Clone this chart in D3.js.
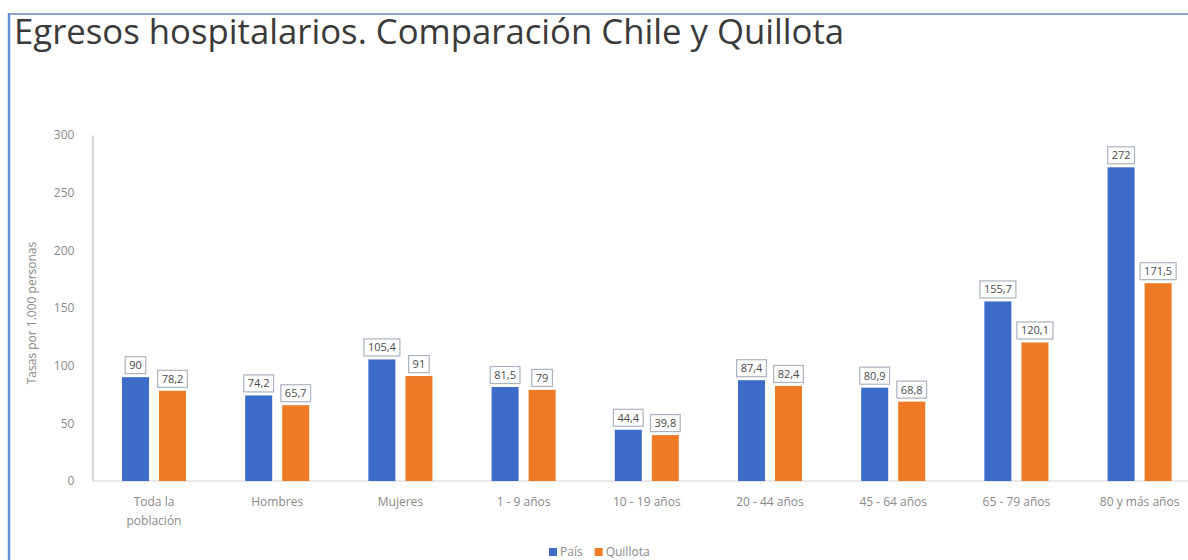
<!DOCTYPE html>
<html lang="es">
<head>
<meta charset="utf-8">
<script src="https://cdn.jsdelivr.net/npm/d3@7/dist/d3.min.js"></script>
<style>
  html, body { margin: 0; padding: 0; background: #ffffff; }
  svg { display: block; }
  text { font-family: "Open Sans", "Noto Sans", sans-serif; }
</style>
</head>
<body>
<svg id="chart" width="1188" height="560"></svg>
<script>
// Hospital discharge rates per 1,000 people: national (País) vs Quillota
const categories = [
  "Toda la población", "Hombres", "Mujeres", "1 - 9 años", "10 - 19 años",
  "20 - 44 años", "45 - 64 años", "65 - 79 años", "80 y más años"
];
const seriesNames = ["País", "Quillota"];
const paisValues     = [90, 74.2, 105.4, 81.5, 44.4, 87.4, 80.9, 155.7, 272];
const quillotaValues = [78.2, 65.7, 91, 79, 39.8, 82.4, 68.8, 120.1, 171.5];
const yTicks = [0, 50, 100, 150, 200, 250, 300];

const colors = { "País": "#3d6bc8", "Quillota": "#ee7a25" };

const svg = d3.select("#chart");

// outer frame (top and left edges)
svg.append("line").attr("x1", 9).attr("x2", 1188).attr("y1", 14).attr("y2", 14)
  .attr("stroke", "#8fa6c4").attr("stroke-width", 2);
svg.append("line").attr("x1", 9).attr("x2", 9).attr("y1", 13).attr("y2", 560)
  .attr("stroke", "#5d92d6").attr("stroke-width", 2.5);

// title, sized to its line
const title = svg.append("text")
  .attr("x", 14).attr("y", 44)
  .attr("fill", "#3a3a3a")
  .style("font-size", "30px")
  .text("Egresos hospitalarios. Comparación Chile y Quillota");
const tw = title.node().getComputedTextLength();
title.style("font-size", (30 * 830 / tw).toFixed(2) + "px");

// scales
const plotLeft = 92.4, step = 123.2;
const x0 = d3.scaleBand()
  .domain(categories)
  .range([plotLeft, plotLeft + step * categories.length])
  .paddingInner(0.48).paddingOuter(0.24);
const x1 = d3.scaleBand()
  .domain(seriesNames)
  .range([0, x0.bandwidth()])
  .paddingInner(0.27);
const y = d3.scaleLinear().domain([0, 300]).range([481, 135]);

// y axis
const yAxis = svg.append("g")
  .attr("transform", `translate(${plotLeft},0)`)
  .call(d3.axisLeft(y).tickValues(yTicks).tickSize(0).tickPadding(18).tickFormat(d3.format("d")));
yAxis.select(".domain").attr("stroke", "#c8c8c8").attr("stroke-width", 1.5);
yAxis.selectAll("text").attr("fill", "#8a8a8a").style("font-size", "12px");

// baseline
svg.append("line")
  .attr("x1", plotLeft).attr("x2", 1188)
  .attr("y1", y(0)).attr("y2", y(0))
  .attr("stroke", "#e2e2e2").attr("stroke-width", 1.5);

// y axis title
svg.append("text")
  .attr("transform", `translate(36,${(y(0) + y(300)) / 2 + 5}) rotate(-90)`)
  .attr("text-anchor", "middle")
  .attr("fill", "#8a8a8a")
  .style("font-size", "12px")
  .text("Tasas por 1.000 personas");

// grouped bars
const rows = categories.map((c, i) => ({
  category: c,
  values: [
    { series: "País", value: paisValues[i] },
    { series: "Quillota", value: quillotaValues[i] }
  ]
}));

const groups = svg.append("g").selectAll("g")
  .data(rows).join("g")
  .attr("transform", d => `translate(${x0(d.category)},0)`);

groups.selectAll("rect")
  .data(d => d.values).join("rect")
  .attr("x", d => x1(d.series))
  .attr("width", x1.bandwidth())
  .attr("y", d => y(d.value))
  .attr("height", d => y(0) - y(d.value))
  .attr("fill", d => colors[d.series]);

// boxed data labels
const fmt = v => String(v).replace(".", ",");
const labels = groups.selectAll("g.lbl")
  .data(d => d.values).join("g")
  .attr("class", "lbl")
  .attr("transform", d => `translate(${x1(d.series) + x1.bandwidth() / 2},${y(d.value) - 12})`);
labels.append("text")
  .attr("text-anchor", "middle")
  .attr("dy", "0.35em")
  .attr("fill", "#4a4a4a")
  .style("font-size", "11px")
  .text(d => fmt(d.value));
labels.each(function () {
  const g = d3.select(this);
  const w = g.select("text").node().getComputedTextLength() + 8;
  g.insert("rect", "text")
    .attr("x", -w / 2).attr("y", -8.5)
    .attr("width", w).attr("height", 17)
    .attr("fill", "#ffffff")
    .attr("stroke", "#aab3c0").attr("stroke-width", 1.2);
});

// category labels (wrapped on two lines where needed)
const catLines = { "Toda la población": ["Toda la", "población"] };
const xl = svg.append("g");
categories.forEach(c => {
  const lines = catLines[c] || [c];
  const t = xl.append("text")
    .attr("x", x0(c) + x0.bandwidth() / 2)
    .attr("y", 506)
    .attr("text-anchor", "middle")
    .attr("fill", "#8a8a8a")
    .style("font-size", "12px");
  lines.forEach((l, i) => t.append("tspan")
    .attr("x", x0(c) + x0.bandwidth() / 2)
    .attr("dy", i === 0 ? 0 : 19)
    .text(l));
});

// legend
const legend = svg.append("g").attr("transform", "translate(549,552)");
let lx = 0;
seriesNames.forEach(s => {
  const item = legend.append("g").attr("transform", `translate(${lx},0)`);
  item.append("rect").attr("x", 0).attr("y", -4).attr("width", 8).attr("height", 8)
    .attr("fill", colors[s]);
  const t = item.append("text").attr("x", 11).attr("y", 0).attr("dy", "0.35em")
    .attr("fill", "#8a8a8a").style("font-size", "12px").text(s);
  lx += 11 + t.node().getComputedTextLength() + 12;
});
</script>
</body>
</html>
